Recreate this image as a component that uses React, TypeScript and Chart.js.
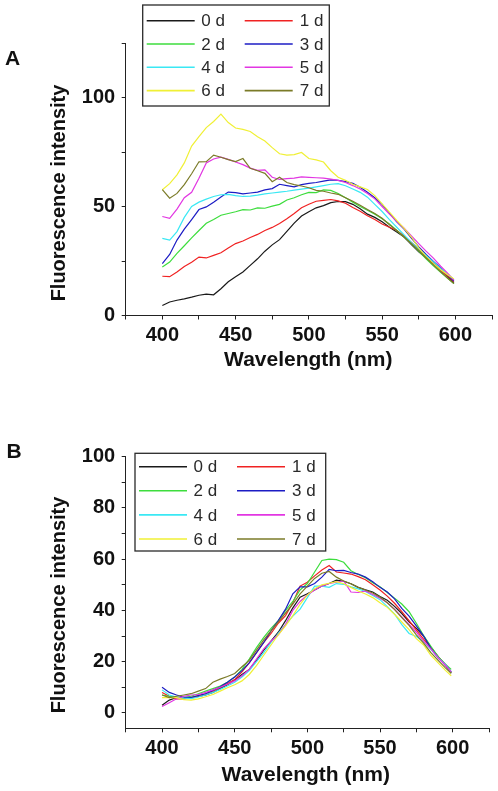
import React, { useEffect, useRef } from 'react';
import { Chart, registerables } from 'chart.js';

Chart.register(...registerables);

// ---------------- data ----------------
const wavelengths = [
  400, 405, 410, 415, 420, 425, 430, 435, 440, 445, 450, 455, 460, 465, 470, 475, 480, 485, 490, 495,
  500, 505, 510, 515, 520, 525, 530, 535, 540, 545, 550, 555, 560, 565, 570, 575, 580, 585, 590, 595, 599,
];

const seriesLabels = ['0 d', '1 d', '2 d', '3 d', '4 d', '5 d', '6 d', '7 d'];
const seriesColors = ['#1a1a1a', '#f02222', '#3ddd3d', '#1c1cc4', '#3ae8f4', '#e236e2', '#f0f035', '#7b7b28'];

const xTickLabels = [400, 450, 500, 550, 600];
const yTickLabelsA = [0, 50, 100];
const yTickLabelsB = [0, 20, 40, 60, 80, 100];

// Panel A
const a0d = [4.6, 6.2, 7, 7.6, 8.4, 9.3, 9.8, 9.5, 12.3, 15.5, 17.8, 20, 23, 26, 29.5, 32.4, 34.8, 38.6, 42.4, 45.6, 47.6, 49.4, 50.4, 51.8, 52.3, 52.2, 51, 49, 46.5, 45, 43, 40.5, 38.3, 36, 32.5, 29.2, 26.5, 23.8, 20.8, 17.6, 15];
const a1d = [18, 17.8, 20, 22.5, 24.4, 26.8, 26.4, 27.6, 28.8, 31, 33, 34.2, 35.8, 37.2, 39, 40.4, 42.2, 44.4, 46.8, 49.4, 51, 52.4, 52.8, 53.2, 52.6, 51.5, 49.5, 47.8, 45.8, 44, 42, 40.5, 39, 36.5, 33.5, 30.5, 27, 24, 20.8, 18, 15.4];
const a2d = [22.3, 24.5, 28.5, 32, 35.6, 39, 42.3, 44, 46, 46.8, 47.6, 48.6, 48.4, 49.4, 49.2, 50.2, 51, 53, 54, 55.4, 56.5, 56.4, 57.6, 57.4, 56, 54, 52, 50, 48.3, 46.5, 44.4, 42, 39, 36, 33, 29.6, 26, 22.8, 19.8, 17, 14.6];
const a3d = [23.8, 28, 34.6, 39.6, 44, 48.6, 49.8, 52, 54.4, 56.6, 56.4, 55.8, 56.2, 56.6, 57.6, 58.2, 60.2, 59.6, 59, 60, 60.6, 61, 61.6, 62.2, 62, 61.4, 60.6, 58.8, 56.5, 54, 51, 47, 43, 39.6, 35.5, 31.5, 28, 24.8, 21.8, 18.5, 15.8];
const a4d = [35.4, 34.6, 38.5, 45, 50, 52, 53.4, 54.6, 55.4, 55.6, 55, 54.6, 54.8, 55.2, 55.8, 56.2, 56.6, 57, 57.5, 58, 58.4, 59, 59.6, 60.2, 60.5, 59.5, 58, 56.5, 54.3, 51, 47.7, 44, 40.5, 37, 33.5, 30.5, 27.5, 24.6, 21.6, 18.8, 16.5];
const a5d = [45.4, 44.6, 48.8, 54, 56.5, 63, 70, 71.8, 72.6, 71.6, 70.4, 69.2, 67.6, 66.6, 66.8, 63.4, 62.4, 62.8, 63, 63.6, 63.4, 63.2, 63, 62.6, 62, 61, 59.6, 58, 56, 53.5, 50, 46.5, 43.2, 40, 36.5, 33, 29.5, 26.3, 22.6, 19.2, 16.2];
const a6d = [57.7, 60.5, 64.5, 70, 77.7, 82, 86.2, 89, 92.4, 88.5, 86, 85.4, 84.4, 82, 80, 77, 74.2, 73.6, 73.8, 74.8, 72, 71.4, 70.4, 66.4, 63.4, 62, 60.2, 59, 57.8, 55, 51.2, 47.4, 43.6, 40, 36, 31, 27, 23.8, 21, 18.6, 16.8];
const a7d = [57.7, 53.8, 56, 60, 65, 70.5, 70.6, 73.6, 72.6, 71.5, 70.6, 72, 67.5, 66.4, 65.2, 61.4, 63.4, 61, 60, 59.4, 58.6, 57.4, 57, 56.2, 55.6, 54, 52.4, 50.6, 48.6, 46.8, 44.6, 41.6, 39, 36, 33, 29.8, 26.5, 23.2, 20, 17, 14.6];

// Panel B
const b0d = [3, 5, 6, 6, 6, 6.4, 7, 8, 9.5, 11, 12.8, 15, 17, 20.5, 24.5, 28, 31.5, 36, 41, 45.2, 46.5, 48, 49.5, 50.5, 51.8, 51.4, 50.4, 49, 48, 47.2, 45.4, 44, 41.6, 38.8, 35.6, 33, 30, 25.6, 22, 18.6, 15.5];
const b1d = [8, 6.5, 5.5, 5.5, 6, 6.8, 7.5, 8.5, 10, 11.5, 13, 16, 19.5, 23.5, 27.5, 31, 35, 38, 43, 49.5, 51, 53.5, 55.8, 57.5, 55, 54.6, 54.2, 53.2, 52, 50, 48, 45.6, 42.8, 39.5, 36, 32.3, 28.8, 25.5, 22, 18.8, 16];
const b2d = [7, 6.5, 6.2, 6, 6.5, 7.5, 8.5, 9.5, 10.5, 12, 14, 17, 21, 25.5, 29.5, 33, 36, 40, 43.5, 48, 50.5, 55, 59.5, 60, 59.8, 58.8, 55.5, 54, 52.8, 50.8, 49.2, 47, 44.8, 42.5, 39.5, 35, 30.2, 26, 22, 19, 17];
const b3d = [10, 8, 7, 6.2, 6, 6.8, 7.5, 8.8, 10.2, 12, 14, 16.5, 19.5, 23.5, 27.5, 32, 36, 40.5, 46.5, 49.2, 49.2, 50.5, 53, 56, 55.5, 55.6, 54.8, 54.2, 53, 51.2, 49, 47.2, 44.5, 40.8, 37.8, 34, 30, 25.2, 21.5, 18.8, 16];
const b4d = [9, 7, 6.2, 5.8, 5.6, 6.2, 7, 8, 9.2, 10.5, 12, 14, 16.5, 20, 23.5, 27.5, 31, 34.5, 37.8, 40.5, 45, 49.5, 49.5, 49, 50.5, 50.2, 49.2, 48.4, 47.4, 45.8, 44.2, 41.5, 38.6, 34.5, 31, 29.8, 27.8, 24.8, 21.6, 18.8, 16];
const b5d = [2.5, 4, 5.5, 6.5, 7, 7.2, 8, 9, 10, 11.2, 12.5, 14.5, 17, 21, 25, 28, 30.5, 34.5, 40, 43.5, 46, 48, 49.5, 50.5, 51, 51.5, 47.2, 47, 47.6, 46.2, 44.8, 43, 40.5, 37.5, 34.5, 31.5, 28, 25, 21.5, 18.6, 16];
const b6d = [6, 6, 6, 5.2, 5, 5.5, 6.3, 7.2, 8.5, 9.8, 11, 12.5, 15, 18.5, 22.5, 26.5, 30.5, 34, 38, 42.4, 46, 48.5, 50, 50.6, 51.2, 50.4, 49, 47.6, 46.4, 45, 43, 41.2, 38.5, 35.5, 32.5, 29, 26.5, 22.5, 19.5, 16.6, 14.5];
const b7d = [7, 6, 6.5, 7, 7.5, 8.5, 9.5, 12, 13.2, 14.2, 15.4, 18, 20.5, 24.5, 28.5, 32, 35.5, 39, 42.5, 46.5, 49.5, 52.5, 54.5, 55.2, 53, 51.5, 50.4, 49, 48, 46.8, 45.2, 43, 40.3, 37.2, 34.2, 30.5, 27.2, 23.5, 20.5, 17.6, 15.5];

const panelASeries = [a0d, a1d, a2d, a3d, a4d, a5d, a6d, a7d];
const panelBSeries = [b0d, b1d, b2d, b3d, b4d, b5d, b6d, b7d];

// ---------------- drawing helpers ----------------
const FONT = "'Liberation Sans', Arial, Helvetica, sans-serif";

const decorPlugin = {
  id: 'decor',
  afterDraw(chart: any, _args: any, opts: any) {
    const ctx: CanvasRenderingContext2D = chart.ctx;
    ctx.save();
    ctx.fillStyle = '#111';
    // panel letter
    ctx.font = `bold 21px ${FONT}`;
    ctx.textAlign = 'left';
    ctx.textBaseline = 'alphabetic';
    ctx.fillText(opts.letter, opts.letterX, opts.letterY);
    // x title
    ctx.font = `bold 21px ${FONT}`;
    ctx.textAlign = 'center';
    ctx.textBaseline = 'middle';
    ctx.fillText(opts.xTitle, opts.xTitleX, opts.xTitleY);
    // y title
    ctx.save();
    ctx.translate(opts.yTitleX, opts.yTitleY);
    ctx.rotate(-Math.PI / 2);
    ctx.font = `bold 20px ${FONT}`;
    ctx.fillText(opts.yTitle, 0, 0);
    ctx.restore();

    // legend box
    const b = opts.legendBox;
    ctx.fillStyle = '#ffffff';
    ctx.fillRect(b.x, b.y, b.w, b.h);
    ctx.strokeStyle = '#2a2a2a';
    ctx.lineWidth = 1.3;
    ctx.strokeRect(b.x, b.y, b.w, b.h);
    ctx.font = `17px ${FONT}`;
    ctx.textAlign = 'left';
    ctx.textBaseline = 'middle';
    chart.data.datasets.forEach((ds: any, i: number) => {
      const col = i % 2;
      const row = Math.floor(i / 2);
      const y = b.y + b.row0 + row * b.rowGap;
      const lx = b.x + (col === 0 ? 4 : 102);
      ctx.strokeStyle = ds.borderColor;
      ctx.lineWidth = 1.6;
      ctx.beginPath();
      ctx.moveTo(lx, y);
      ctx.lineTo(lx + 48, y);
      ctx.stroke();
      ctx.fillStyle = '#2a2a2a';
      ctx.fillText(ds.label, b.x + (col === 0 ? 58.5 : 157), y + 1);
    });
    ctx.restore();
  },
};

interface PanelSpec {
  height: number;
  series: number[][];
  yMin: number;
  yMax: number;
  yStep: number;
  yLabels: number[];
  padTop: number;
  padRight: number;
  xAxisHeight: number;
  decor: any;
}

function makeConfig(p: PanelSpec): any {
  const tickFont = { family: FONT, size: 20, weight: 'bold' as const };
  return {
    type: 'line',
    data: {
      datasets: p.series.map((vals, i) => ({
        label: seriesLabels[i],
        data: vals.map((v, j) => ({ x: wavelengths[j], y: v })),
        borderColor: seriesColors[i],
        backgroundColor: seriesColors[i],
        borderWidth: 1.2,
        pointRadius: 0,
        tension: 0,
        fill: false,
        order: 7 - i,
      })),
    },
    options: {
      animation: false,
      responsive: false,
      maintainAspectRatio: false,
      events: [],
      layout: { padding: { left: 0, top: p.padTop, right: p.padRight, bottom: 0 } },
      plugins: {
        legend: { display: false },
        tooltip: { enabled: false },
        title: { display: false },
        decor: p.decor,
      },
      scales: {
        x: {
          type: 'linear',
          min: 375,
          max: 625,
          ticks: {
            stepSize: 25,
            autoSkip: false,
            maxRotation: 0,
            minRotation: 0,
            padding: 4,
            color: '#111',
            font: tickFont,
            callback: (v: number) => (xTickLabels.includes(v) ? String(v) : ''),
          },
          grid: { display: true, drawOnChartArea: false, drawTicks: true, tickLength: 4, color: '#222', lineWidth: 1 },
          border: { display: true, color: '#222', width: 1 },
          afterFit: (s: any) => {
            s.height = p.xAxisHeight;
          },
        },
        y: {
          type: 'linear',
          min: p.yMin,
          max: p.yMax,
          ticks: {
            stepSize: p.yStep,
            includeBounds: false,
            autoSkip: false,
            padding: 6.5,
            color: '#111',
            font: tickFont,
            callback: (v: number) => (p.yLabels.includes(v) ? String(v) : ''),
          },
          grid: { display: true, drawOnChartArea: false, drawTicks: true, tickLength: 4, color: '#222', lineWidth: 1 },
          border: { display: true, color: '#222', width: 1 },
          afterFit: (s: any) => {
            s.width = 125.7;
          },
        },
      },
    },
    plugins: [decorPlugin],
  };
}

const panelA: PanelSpec = {
  height: 395,
  series: panelASeries,
  yMin: 0,
  yMax: 125,
  yStep: 25,
  yLabels: yTickLabelsA,
  padTop: 43,
  padRight: 6,
  xAxisHeight: 79.5,
  decor: {
    letter: 'A',
    letterX: 5,
    letterY: 65,
    xTitle: 'Wavelength (nm)',
    xTitleX: 308.3,
    xTitleY: 360,
    yTitle: 'Fluorescence intensity',
    yTitleX: 59,
    yTitleY: 193,
    legendBox: { x: 142.7, y: 5, w: 186.6, h: 101, row0: 15.7, rowGap: 23.3 },
  },
};

const panelB: PanelSpec = {
  height: 396,
  series: panelBSeries,
  yMin: -6,
  yMax: 100,
  yStep: 10,
  yLabels: yTickLabelsB,
  padTop: 61.7,
  padRight: 9,
  xAxisHeight: 62.7,
  decor: {
    letter: 'B',
    letterX: 6.5,
    letterY: 63,
    xTitle: 'Wavelength (nm)',
    xTitleX: 305.8,
    xTitleY: 380,
    yTitle: 'Fluorescence intensity',
    yTitleX: 59,
    yTitleY: 210,
    legendBox: { x: 135, y: 58.3, w: 190.7, h: 97.7, row0: 13.4, rowGap: 24.1 },
  },
};

function Panel({ spec, top }: { spec: PanelSpec; top: number }) {
  const ref = useRef<HTMLCanvasElement>(null);
  useEffect(() => {
    const chart = new Chart(ref.current as HTMLCanvasElement, makeConfig(spec));
    return () => chart.destroy();
  }, [spec]);
  return (
    <div style={{ position: 'absolute', left: 0, top, width: 498, height: spec.height }}>
      <canvas
        ref={ref}
        width={498}
        height={spec.height}
        style={{ display: 'block', width: 498, height: spec.height }}
      />
    </div>
  );
}

export default function App() {
  return (
    <div style={{ position: 'absolute', left: 0, top: 0, width: 498, height: 791, background: '#ffffff' }}>
      <Panel spec={panelA} top={0} />
      <Panel spec={panelB} top={395} />
    </div>
  );
}
